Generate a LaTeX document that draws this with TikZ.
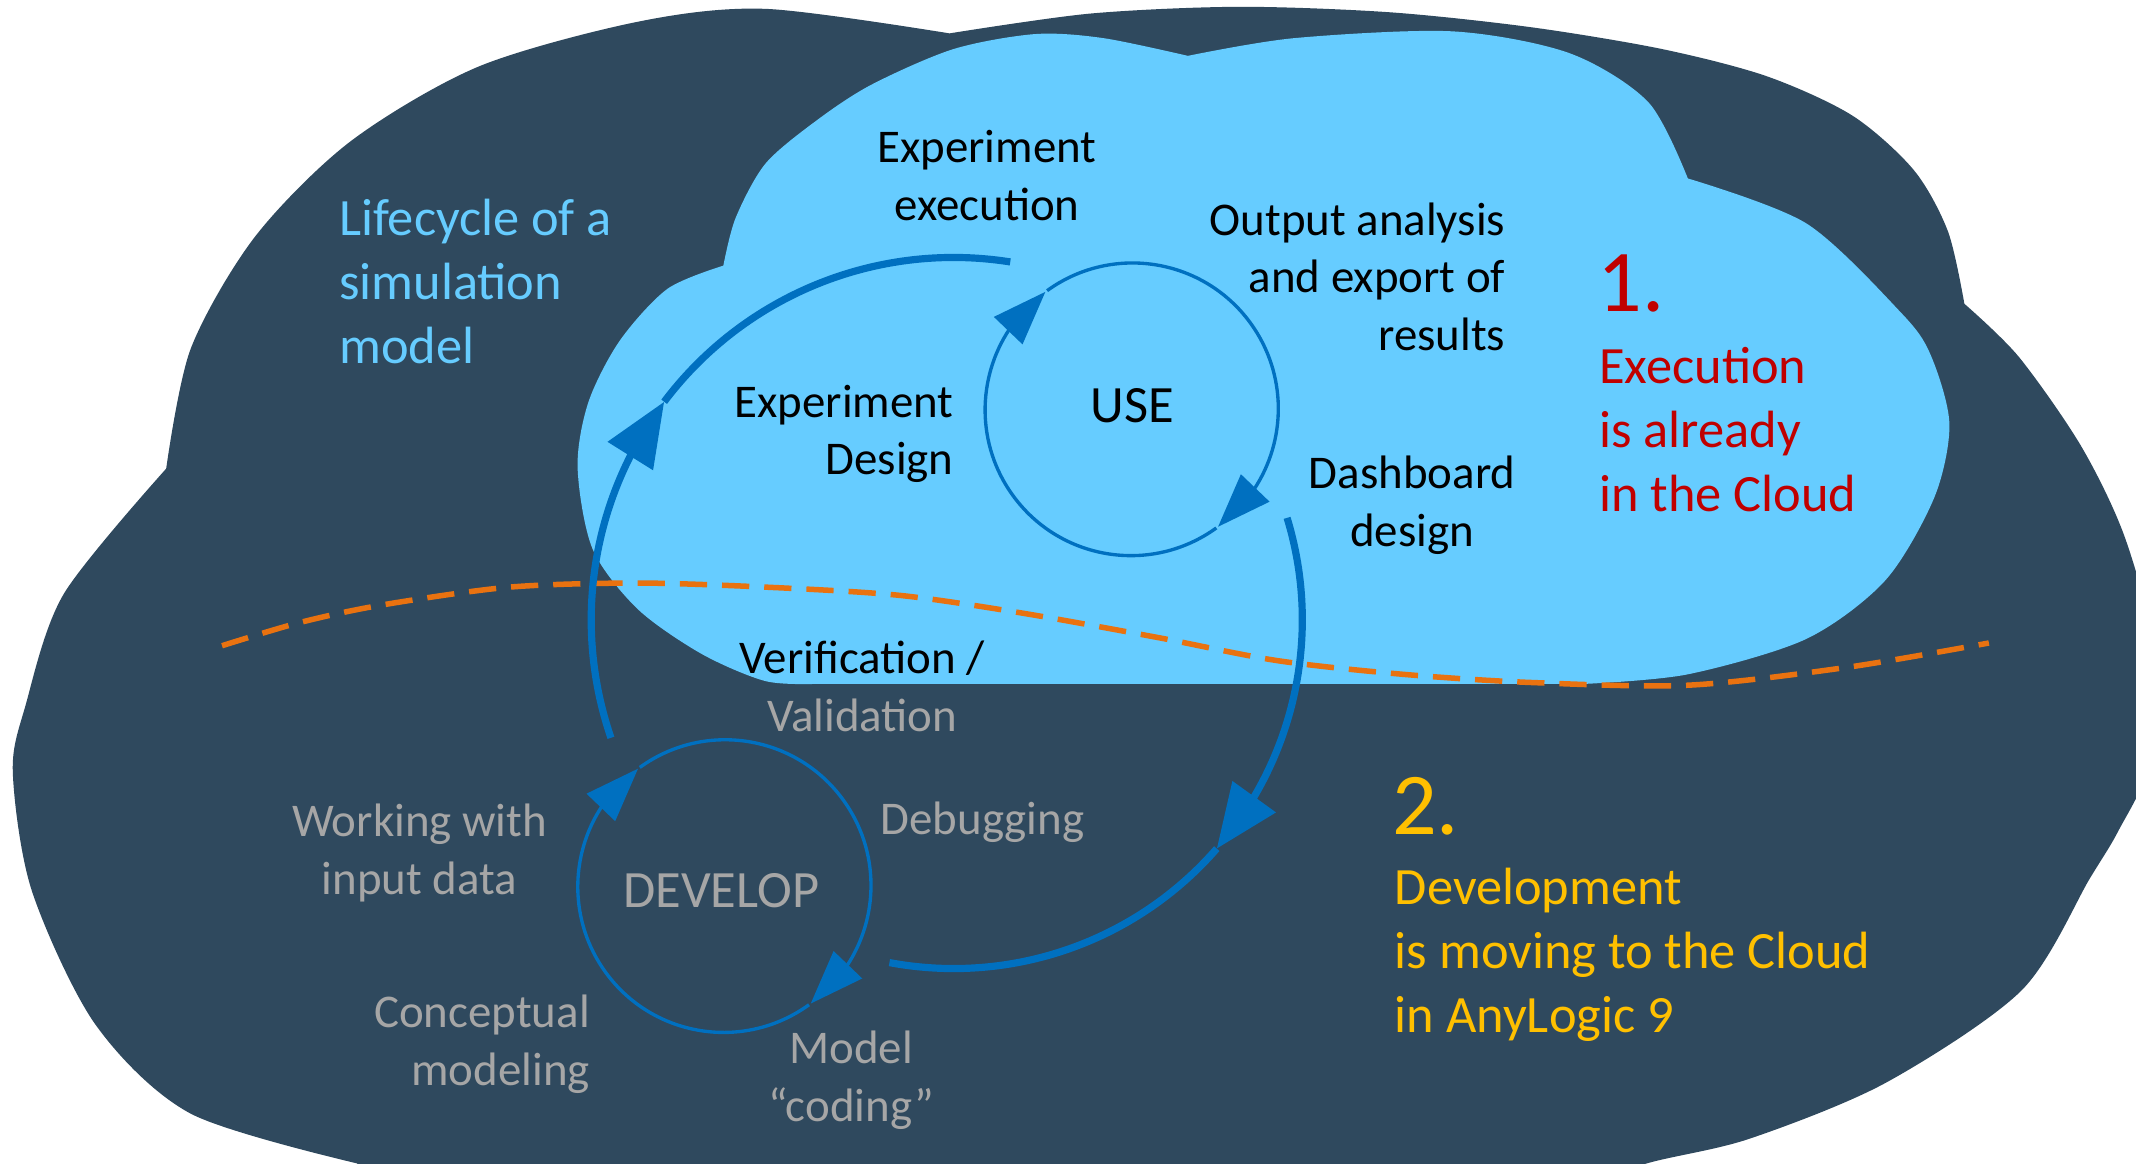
\documentclass[tikz,border=0pt]{standalone}
\usepackage{fontspec}
\setmainfont{Carlito}
\usetikzlibrary{arrows.meta,bending,calc}
\definecolor{darkbg}{RGB}{47,73,94}
\definecolor{lightcl}{RGB}{102,204,255}
\definecolor{arcblue}{RGB}{0,112,192}
\definecolor{dashorange}{RGB}{233,114,16}
\definecolor{txtgray}{RGB}{166,166,166}
\definecolor{txtred}{RGB}{192,0,0}
\definecolor{txtyellow}{RGB}{255,192,0}
\definecolor{lifeblue}{RGB}{102,204,255}
\begin{document}
\begin{tikzpicture}[x=0.02cm,y=-0.02cm,
  lbl/.style={inner sep=0pt, outer sep=0pt, font=\fontsize{19.6}{24.1}\selectfont},
  bigtxt/.style={inner sep=0pt, outer sep=0pt, font=\fontsize{21.9}{26.6}\selectfont},
  numtxt/.style={inner sep=0pt, outer sep=0pt, font=\fontsize{36.8}{44}\selectfont},
  ring/.style={circle, minimum size=4.28cm, inner sep=0pt, outer sep=0pt},
  thinarc/.style={draw=arcblue, line width=1.4pt, -{Triangle[length=0.79cm, width=0.57cm, flex]}},
  thickarc/.style={draw=arcblue, line width=3pt},
  thicktip/.style={-{Triangle[length=0.94cm, width=0.76cm, flex]}},
  dashline/.style={draw=dashorange, line width=2.3pt, dash pattern=on 0.4cm off 0.22cm}
]
\useasboundingbox (0,0) rectangle (1568,854.4);
\fill[white] (0,0) rectangle (1568,854.4);

% dark cloud
\fill[darkbg] plot[smooth] coordinates {(122,344) (140,256) (187,174) (257,104) (351,49) (468,16) (562,6.5) (697,24.5)}
  -- plot[smooth] coordinates {(697,24.5) (800,10) (909,5) (1020,9) (1124,20) (1220,36) (1297,56) (1360,85) (1405,125) (1430,170) (1442,223)}
  -- plot[smooth] coordinates {(1442,223) (1482,262) (1528,328) (1560,395) (1582,480) (1578,560) (1555,610) (1534,645) (1484,727) (1384,795) (1284,836) (1209,854) (1150,875)}
  -- (300,880)
  -- plot[smooth] coordinates {(262,854) (140,817.5) (70,752) (23.4,654) (9.4,567) (18.7,518) (46.8,436) (122,344)} -- cycle;

% light cloud
\fill[lightcl] plot[smooth] coordinates {(531,195) (490,212) (455,250) (432,295) (424,343) (435,403) (468,447) (515,480) (562,500) (600,502)}
  -- (1164,502)
  -- plot[smooth] coordinates {(1164,502) (1239,495) (1326,469) (1384,426) (1420,365) (1431,311) (1417,260) (1395,229) (1326,164) (1239,131)}
  -- plot[smooth] coordinates {(1239,131) (1210,75) (1152,39) (1066,23) (950,28) (872,41)}
  -- plot[smooth] coordinates {(872,41) (810,28) (760,25) (700,36) (640,62) (600,88) (562,120) (540,160) (531,195)} -- cycle;

% dashed boundary
\draw[dashline] plot[smooth] coordinates {(163,474) (220,457) (281,444) (374,431) (468,428) (562,431) (660,437) (750,450) (850,468) (938,485) (1030,495) (1124,501) (1239,503) (1355,490) (1460,472)};

% rings
\node[ring] (usec) at (830,301) {};
\node[ring] (devc) at (531,651) {};
\draw[thinarc] (usec.125.9) arc[start angle=-125.9, end angle=54.1, radius=107];
\draw[thinarc] (usec.-54.1) arc[start angle=54.1, end angle=234.1, radius=107];
\draw[thinarc] (devc.125.9) arc[start angle=-125.9, end angle=54.1, radius=107];
\draw[thinarc] (devc.-54.1) arc[start angle=54.1, end angle=234.1, radius=107];

% big arcs
\coordinate (bigc) at (700,455);
\coordinate (a1s) at ($(bigc)+(-199:266)$);
\coordinate (a1m) at ($(bigc)+(-143:266)$);
\coordinate (a2s) at ($(bigc)+(-17:256)$);
\coordinate (a2m) at ($(bigc)+(41:256)$);
\draw[thickarc, thicktip] (a1s) arc[start angle=-199, end angle=-143, radius=266];
\draw[thickarc] (a1m) arc[start angle=-143, end angle=-81, radius=266];
\draw[thickarc, thicktip] (a2s) arc[start angle=-17, end angle=41, radius=256];
\draw[thickarc] (a2m) arc[start angle=41, end angle=100.6, radius=256];

% texts (multi-line nodes: base anchor = last line baseline)
\node[bigtxt, anchor=base west, align=left, text=lifeblue] (life) at (249,266.5) {Lifecycle of a\\simulation\\model};
\node[lbl, anchor=base, align=center] (expexec) at (724.5,161.7) {Experiment\\execution};
\node[lbl, anchor=base east, align=right] (output) at (1105,257.2) {Output analysis\\and export of\\results};
\node[lbl, anchor=base east, align=right] (expdes) at (700,348.5) {Experiment\\Design};
\node[bigtxt, anchor=base] (uselbl) at (831,310.2) {USE};
\node[lbl, anchor=base, align=center] (dash) at (1036.7,401.3) {Dashboard\\design};
\node[numtxt, anchor=base west, text=txtred] (one) at (1173,228.7) {1.};
\node[bigtxt, anchor=base west, align=left, text=txtred] (exec) at (1174,375.2) {Execution\\is already\\in the Cloud};
\node[lbl, anchor=base, align=center] (verif) at (633,537) {\textcolor{black}{Verification /}\\\textcolor{txtgray}{Validation}};
\node[lbl, anchor=base, align=center, text=txtgray] (input) at (308,656.5) {Working with\\input data};
\node[bigtxt, anchor=base, text=txtgray] (devlbl) at (529.5,666) {DEVELOP};
\node[lbl, anchor=base east, align=right, text=txtgray] (concept) at (433,796.5) {Conceptual\\modeling};
\node[lbl, anchor=base, align=center, text=txtgray] (coding) at (624.8,823.2) {Model\\“coding”};
\node[lbl, anchor=base west, text=txtgray] (debug) at (646.5,612.9) {Debugging};
\node[numtxt, anchor=base west, text=txtyellow] (two) at (1022,612.5) {2.};
\node[bigtxt, anchor=base west, align=left, text=txtyellow] (devel) at (1024,757.7) {Development\\is moving to the Cloud\\in AnyLogic 9};
\end{tikzpicture}
\end{document}
